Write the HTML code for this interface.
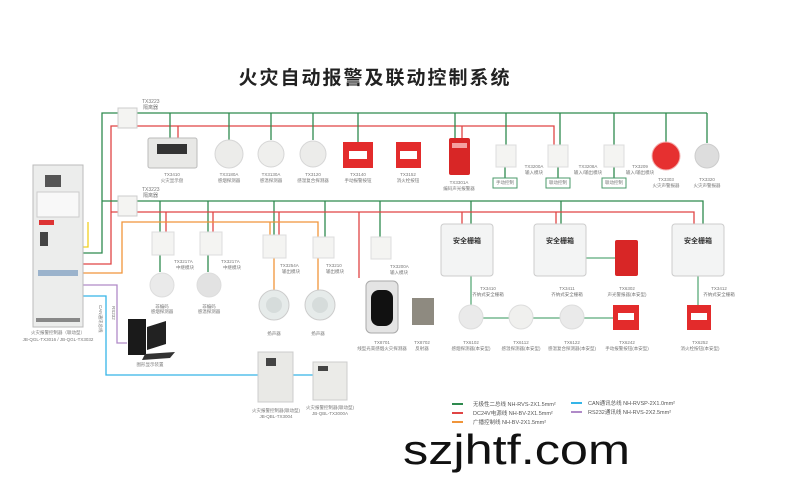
<!DOCTYPE html>
<html><head><meta charset="utf-8"><style>
html,body{margin:0;padding:0;background:#fff;}
svg{display:block}
text{font-family:"Liberation Sans","Noto Sans CJK SC",sans-serif;fill:#777;}
</style></head><body>
<svg width="800" height="496" viewBox="0 0 800 496" xmlns="http://www.w3.org/2000/svg">
<rect width="800" height="496" fill="#fff"/>
<text x="375" y="84" text-anchor="middle" font-size="19" font-weight="bold" style="fill:#222" letter-spacing="2">火灾自动报警及联动控制系统</text>

<g fill="none" stroke-width="1.3">
<polyline points="83,253 102,253 102,113 707,113" stroke="#2e8a4e"/>
<polyline points="83,264 111,264 111,126 554,126 554,145" stroke="#e04545"/>
<path d="M170 113V140 M229 113V140 M271 113V140 M313 113V140 M358 113V142 M455 113V138 M506 113V145 M560 113V145 M614 113V145 M666 113V142 M707 113V143" stroke="#2e8a4e"/>
<path d="M178 126V140 M462 126V138" stroke="#e04545"/>
<path d="M505 167V178 M558 167V178 M614 167V178" stroke="#2e8a4e"/>
<path d="M102 201H703V224 M160 201V232 M208 201V232 M274 201V235 M325 201V237 M380 201V237 M471 201V224 M561 201V224" stroke="#2e8a4e"/>
<path d="M111 212H694V224 M166 212V232 M213 212V232 M279 212V235 M359 212V278 M462 212V224 M556 212V224" stroke="#e04545"/>
<polyline points="83,273 122,273 122,222 318,222 318,237" stroke="#f0953a"/>
<path d="M270 222V235 M274 258V292 M318 258V292" stroke="#f0953a"/>
<path d="M160 255V272 M208 255V272" stroke="#2e8a4e"/>
<polyline points="83,247 88,247 88,222" stroke="#f0d020"/>
<path d="M471 276V305 M471 318H627 M698 276V305 M586 258H615" stroke="#5aaa7a"/>
<polyline points="83,285 117,285 117,343 127,343" stroke="#b08ac8"/>
<polyline points="83,296 106,296 106,375 258,375" stroke="#35b5e8"/>
<path d="M293 375H313" stroke="#35b5e8"/>
</g>

<rect x="118" y="108" width="19" height="20" fill="#f4f4f2" stroke="#ccc"/>
<rect x="118" y="196" width="19" height="20" fill="#f4f4f2" stroke="#ccc"/>
<text x="142" y="103" font-size="5">TX3223</text><text x="143" y="109" font-size="5">隔离器</text>
<text x="142" y="191" font-size="5">TX3223</text><text x="143" y="197" font-size="5">隔离器</text>

<rect x="33" y="165" width="50" height="162" fill="#ecedec" stroke="#bbb"/>
<rect x="45" y="175" width="16" height="12" fill="#555"/>
<rect x="37" y="192" width="42" height="25" fill="#f8f8f8" stroke="#ccc"/>
<rect x="39" y="220" width="15" height="5" fill="#d33"/>
<rect x="40" y="232" width="8" height="14" fill="#444"/>
<rect x="38" y="270" width="40" height="6" fill="#9bb3cc"/>
<rect x="36" y="318" width="44" height="4" fill="#888"/>
<text x="58" y="334" font-size="4.5" text-anchor="middle">火灾报警控制器（联动型）</text>
<text x="58" y="341" font-size="4.5" text-anchor="middle">JB-QGL-TX3016 / JB-QGL-TX3032</text>

<rect x="148" y="138" width="49" height="30" rx="2" fill="#e8e8e6" stroke="#bbb"/>
<rect x="157" y="144" width="30" height="10" fill="#333"/>
<circle cx="229" cy="154" r="14" fill="#ececea" stroke="#d6d6d6"/>
<circle cx="271" cy="154" r="13" fill="#efefed" stroke="#d6d6d6"/>
<circle cx="313" cy="154" r="13" fill="#ececea" stroke="#d6d6d6"/>
<rect x="343" y="142" width="30" height="26" fill="#e32b2b"/><rect x="349" y="151" width="18" height="8" fill="#fff"/>
<rect x="396" y="142" width="25" height="26" fill="#e32b2b"/><rect x="400" y="151" width="17" height="8" fill="#fff"/>
<rect x="449" y="138" width="21" height="37" rx="2" fill="#d82626"/><rect x="452" y="143" width="15" height="5" fill="#f4a0a0"/>
<rect x="496" y="145" width="20" height="22" fill="#f4f4f2" stroke="#ddd"/>
<rect x="548" y="145" width="20" height="22" fill="#f4f4f2" stroke="#ddd"/>
<rect x="604" y="145" width="20" height="22" fill="#f4f4f2" stroke="#ddd"/>
<g fill="#fff" stroke="#4a9a6a" stroke-width="1"><rect x="493" y="178" width="24" height="10"/><rect x="546" y="178" width="24" height="10"/><rect x="602" y="178" width="24" height="10"/></g>
<circle cx="666" cy="156" r="14" fill="#e63030" stroke="#f5b0b0"/>
<circle cx="707" cy="156" r="12" fill="#ddd" stroke="#ccc"/>
<g font-size="4.5" text-anchor="middle">
<text x="172" y="176">TX3410</text><text x="172" y="182">火灾显示盘</text>
<text x="229" y="176">TX3180A</text><text x="229" y="182">感烟探测器</text>
<text x="271" y="176">TX3130A</text><text x="271" y="182">感温探测器</text>
<text x="313" y="176">TX3120</text><text x="313" y="182">感温复合探测器</text>
<text x="358" y="176">TX3140</text><text x="358" y="182">手动报警按钮</text>
<text x="408" y="176">TX3152</text><text x="408" y="182">消火栓按钮</text>
<text x="459" y="184">TX3301A</text><text x="459" y="190">编码声光报警器</text>
<text x="505" y="184">手动控制</text><text x="558" y="184">联动控制</text><text x="614" y="184">联动控制</text>
<text x="534" y="168">TX3200A</text><text x="534" y="174">输入模块</text>
<text x="588" y="168">TX3208A</text><text x="588" y="174">输入/输出模块</text>
<text x="640" y="168">TX3209</text><text x="640" y="174">输入/输出模块</text>
<text x="666" y="181">TX3303</text><text x="666" y="187">火灾声警报器</text>
<text x="707" y="181">TX3320</text><text x="707" y="187">火灾声警报器</text>
</g>

<g fill="#f4f4f2" stroke="#ddd"><rect x="152" y="232" width="22" height="23"/><rect x="200" y="232" width="22" height="23"/><rect x="263" y="235" width="23" height="23"/><rect x="313" y="237" width="21" height="21"/><rect x="371" y="237" width="20" height="22"/></g>
<g font-size="4.5">
<text x="174" y="263">TX3217A</text><text x="176" y="269">中继模块</text>
<text x="221" y="263">TX3217A</text><text x="223" y="269">中继模块</text>
<text x="280" y="267">TX3254A</text><text x="282" y="273">输出模块</text>
<text x="326" y="267">TX3210</text><text x="326" y="273">输出模块</text>
<text x="390" y="268">TX3200A</text><text x="390" y="274">输入模块</text>
</g>
<circle cx="162" cy="285" r="12" fill="#eaeaea" stroke="#ddd"/><circle cx="209" cy="285" r="12" fill="#e2e2e2" stroke="#ddd"/>
<g font-size="4.5" text-anchor="middle"><text x="162" y="308">非编码</text><text x="162" y="313">感烟探测器</text><text x="209" y="308">非编码</text><text x="209" y="313">感温探测器</text>
<text x="274" y="335">扬声器</text><text x="318" y="335">扬声器</text>
<text x="382" y="344">TX8701</text><text x="382" y="350">线型光束感烟火灾探测器</text>
<text x="422" y="344">TX8702</text><text x="422" y="350">反射器</text></g>
<circle cx="274" cy="305" r="15" fill="#e6ebea" stroke="#ccc"/><circle cx="274" cy="305" r="8" fill="#d6dcdb"/>
<circle cx="320" cy="305" r="15" fill="#e6ebea" stroke="#ccc"/><circle cx="320" cy="305" r="8" fill="#d6dcdb"/>
<rect x="366" y="281" width="32" height="52" rx="5" fill="#e4e4e4" stroke="#aaa"/><rect x="371" y="290" width="22" height="36" rx="8" fill="#111"/>
<rect x="412" y="298" width="22" height="27" fill="#8e8a80"/>

<g fill="#f3f4f4" stroke="#ccc"><rect x="441" y="224" width="52" height="52" rx="3"/><rect x="534" y="224" width="52" height="52" rx="3"/><rect x="672" y="224" width="52" height="52" rx="3"/></g>
<g font-size="7" font-weight="bold" text-anchor="middle"><text x="467" y="243" style="fill:#333">安全栅箱</text><text x="560" y="243" style="fill:#333">安全栅箱</text><text x="698" y="243" style="fill:#333">安全栅箱</text></g>
<rect x="615" y="240" width="23" height="36" rx="2" fill="#d82626"/>
<g font-size="4.5" text-anchor="middle">
<text x="488" y="290">TX3410</text><text x="488" y="296">齐纳式安全栅箱</text>
<text x="567" y="290">TX3411</text><text x="567" y="296">齐纳式安全栅箱</text>
<text x="627" y="290">TX6302</text><text x="627" y="296">声光警报器(本安型)</text>
<text x="719" y="290">TX3412</text><text x="719" y="296">齐纳式安全栅箱</text>
<text x="471" y="344">TX6102</text><text x="471" y="350">感烟探测器(本安型)</text>
<text x="521" y="344">TX6112</text><text x="521" y="350">感温探测器(本安型)</text>
<text x="572" y="344">TX6122</text><text x="572" y="350">感温复合探测器(本安型)</text>
<text x="627" y="344">TX6242</text><text x="627" y="350">手动报警按钮(本安型)</text>
<text x="700" y="344">TX6252</text><text x="700" y="350">消火栓按钮(本安型)</text>
</g>
<circle cx="471" cy="317" r="12" fill="#eaeaea" stroke="#ddd"/><circle cx="521" cy="317" r="12" fill="#f0f0ee" stroke="#ddd"/><circle cx="572" cy="317" r="12" fill="#eaeaea" stroke="#ddd"/>
<rect x="613" y="305" width="26" height="25" fill="#e32b2b"/><rect x="618" y="313" width="16" height="7" fill="#fff"/>
<rect x="687" y="305" width="24" height="25" fill="#e32b2b"/><rect x="691" y="313" width="16" height="7" fill="#fff"/>

<rect x="128" y="319" width="18" height="36" fill="#1a1a1a"/>
<path d="M147 327 L166 321 L166 344 L147 350Z" fill="#222"/>
<path d="M145 354 L175 352 L170 358 L142 360Z" fill="#333"/>
<text x="150" y="366" font-size="4.5" text-anchor="middle">图形显示装置</text>
<text x="112" y="306" font-size="4.5" transform="rotate(90 112 306)">RS232</text>
<text x="99" y="305" font-size="4.5" transform="rotate(90 99 305)">CAN通讯总线</text>

<rect x="258" y="352" width="35" height="50" fill="#e9e9e6" stroke="#ccc"/><rect x="266" y="358" width="10" height="8" fill="#444"/>
<rect x="313" y="362" width="34" height="38" fill="#ebebe8" stroke="#ccc"/><rect x="318" y="366" width="10" height="5" fill="#444"/>
<g font-size="4.5" text-anchor="middle"><text x="276" y="412">火灾报警控制器(联动型)</text><text x="276" y="418">JB-QBL-TX3004</text>
<text x="330" y="409">火灾报警控制器(联动型)</text><text x="330" y="415">JB-QBL-TX3000A</text></g>

<g stroke-width="2"><path d="M452 404H463" stroke="#2e8a4e"/><path d="M452 413H463" stroke="#e04545"/><path d="M452 422H463" stroke="#f0953a"/><path d="M571 403H582" stroke="#35b5e8"/><path d="M571 412H582" stroke="#b08ac8"/></g>
<g font-size="5.5">
<text x="473" y="406" style="fill:#555">无极性二总线  NH-RVS-2X1.5mm²</text>
<text x="473" y="415" style="fill:#555">DC24V电源线  NH-BV-2X1.5mm²</text>
<text x="473" y="424" style="fill:#555">广播控制线      NH-BV-2X1.5mm²</text>
<text x="588" y="405" style="fill:#555">CAN通讯总线   NH-RVSP-2X1.0mm²</text>
<text x="588" y="414" style="fill:#555">RS232通讯线    NH-RVS-2X2.5mm²</text>
</g>

<text x="403" y="464" font-size="42" textLength="227" lengthAdjust="spacingAndGlyphs" style="fill:#111">szjhtf.com</text>
</svg>
</body></html>
